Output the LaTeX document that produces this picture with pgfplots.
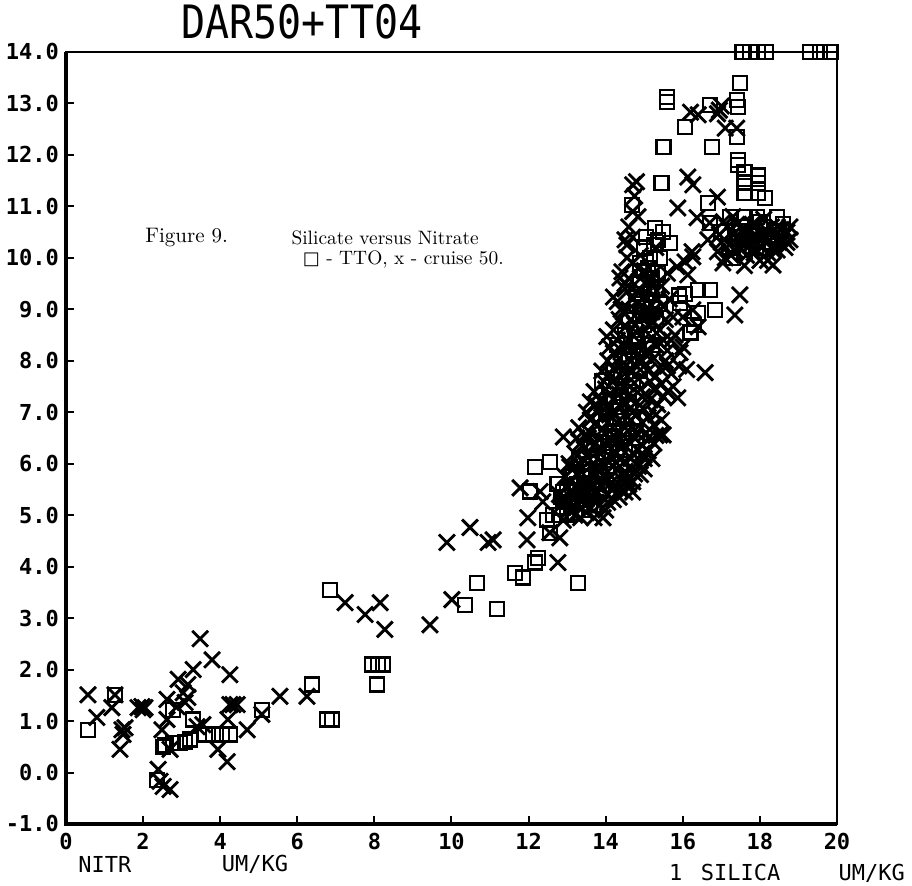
\documentclass[border=0pt]{standalone}
\usepackage{fontspec}
\usepackage{pgfplots}
\pgfplotsset{compat=1.18}
\newfontfamily\plotfont{DejaVu Sans Mono}
\newfontfamily\symfont{DejaVu Sans}

\pgfplotstableread{
x y
0.57 1.51
0.8 1.07
1.19 1.26
1.27 1.51
1.4 0.45
1.45 0.83
1.48 0.74
1.53 0.87
1.87 1.26
1.97 1.28
2.05 1.26
2.0 1.22
2.62 1.42
2.39 0.06
2.44 -0.17
2.52 -0.27
2.7 -0.33
2.49 0.83
2.62 1.03
2.91 1.81
2.7 0.45
2.88 1.28
3.04 1.55
3.16 1.71
3.3 2.0
3.09 1.36
3.16 1.46
3.4 0.89
3.48 2.6
3.79 2.19
3.55 0.93
3.94 0.45
4.18 0.21
4.25 1.9
4.2 1.03
4.25 1.32
4.33 1.32
4.44 1.32
4.7 0.83
5.08 1.13
5.55 1.48
6.25 1.48
7.24 3.3
7.76 3.07
8.15 3.3
8.27 2.78
9.44 2.87
10.01 3.36
9.88 4.47
10.48 4.76
10.95 4.47
11.08 4.52
11.78 5.53
11.98 4.95
11.96 4.52
12.37 5.26
12.3 5.46
12.76 4.08
12.81 4.56
12.55 4.66
12.9 6.52
13.07 5.94
13.93 4.95
12.9 4.9
13.2 5.0
13.5 5.05
13.7 4.95
14.0 5.1
13.3 5.2
12.8 5.4
13.1 5.45
13.45 5.35
13.75 5.4
14.03 5.4
14.37 5.5
13.9 5.55
12.95 5.75
13.25 5.8
13.55 5.7
13.85 5.85
14.15 5.75
14.5 5.85
14.9 5.79
14.7 5.65
13.2 6.2
13.5 6.15
13.8 6.25
14.1 6.15
14.4 6.3
14.7 6.2
15.0 6.1
13.35 6.4
13.3 6.7
13.6 6.6
13.9 6.65
14.2 6.55
14.5 6.7
14.8 6.6
15.1 6.5
15.4 6.56
13.5 7.0
13.8 7.05
14.1 6.95
14.4 7.1
14.7 7.0
15.0 7.05
15.3 6.95
15.49 6.56
13.7 7.4
13.85 7.24
14.3 7.5
14.0 7.45
14.6 7.35
14.9 7.45
15.15 7.24
15.5 7.3
15.87 7.28
13.9 7.8
14.2 7.85
14.5 7.75
14.8 7.9
15.1 7.8
15.4 7.85
15.7 7.75
16.1 7.83
16.58 7.77
14.03 8.47
14.1 8.27
14.4 8.2
14.7 8.25
15.0 8.15
15.3 8.3
15.6 8.2
15.93 8.16
16.0 8.27
14.2 8.6
14.5 8.65
14.8 8.55
15.1 8.7
15.4 8.6
15.75 8.85
16.0 8.85
16.4 8.66
14.3 9.15
14.6 9.0
14.9 9.05
15.2 8.95
15.5 9.05
16.26 8.99
17.35 8.89
14.2 9.24
14.5 9.4
14.8 9.35
15.2 9.45
17.48 9.28
14.37 9.61
14.42 9.73
14.7 9.9
15.0 9.75
15.85 9.83
16.13 9.67
16.06 9.92
17.04 9.9
14.5 10.35
14.55 10.25
14.7 10.4
16.24 10.12
16.26 10.02
16.9 10.12
16.65 10.35
14.84 10.8
16.37 10.78
16.7 10.68
15.87 10.97
16.9 11.18
14.8 11.48
14.7 11.42
16.26 11.42
16.13 11.57
17.1 10.0
17.3 10.45
17.5 10.2
17.7 10.5
17.9 10.15
18.1 10.4
18.3 10.6
18.5 10.3
18.7 10.5
18.78 10.6
18.78 10.35
18.34 9.86
18.0 9.95
17.6 9.85
17.4 10.65
17.9 10.65
18.2 10.1
18.55 10.55
17.2 10.25
16.95 10.45
17.8 10.3
18.4 10.45
16.2 12.83
16.4 12.78
16.95 12.87
17.0 12.95
16.9 12.8
17.1 12.52
17.4 12.52
13.05 5.1
13.35 4.95
13.6 5.15
13.85 5.2
14.2 5.3
14.5 5.45
14.6 5.6
14.85 5.95
13.1 5.65
13.4 5.6
13.65 5.55
13.95 5.65
14.25 5.55
14.55 5.7
13.05 6.0
13.3 6.0
13.6 5.95
13.9 6.0
14.2 5.95
14.5 6.05
14.8 6.0
15.1 6.25
13.45 6.3
13.75 6.4
14.05 6.35
14.35 6.45
14.65 6.4
14.95 6.35
15.25 6.4
13.45 6.55
13.75 6.8
14.05 6.8
14.35 6.85
14.65 6.85
14.95 6.8
15.25 6.75
13.6 7.2
13.9 7.2
14.2 7.25
14.5 7.2
14.8 7.2
15.1 7.3
15.35 7.15
13.95 7.6
14.25 7.65
14.55 7.55
14.85 7.65
15.15 7.6
15.45 7.55
15.75 7.5
14.05 8.0
14.35 8.05
14.65 8.0
14.95 8.0
15.25 8.05
15.55 8.0
14.3 8.4
14.6 8.4
14.9 8.35
15.2 8.45
15.5 8.4
15.8 8.5
14.35 8.8
14.65 8.8
14.95 8.85
15.25 8.75
15.55 8.8
14.4 9.0
14.7 9.2
15.0 9.25
15.35 9.2
14.6 9.6
14.9 9.6
15.25 9.7
14.55 10.0
14.9 10.05
15.3 10.2
14.6 10.6
14.7 10.9
14.75 11.2
17.0 10.3
17.15 10.6
17.35 10.15
17.45 10.35
17.55 10.55
17.65 10.05
17.75 10.25
17.85 10.45
17.95 10.4
18.05 10.2
18.15 10.55
18.25 10.35
18.35 10.15
18.45 10.6
18.6 10.4
18.65 10.2
18.2 9.95
17.8 10.65
17.3 10.8
12.85 5.2
13.15 5.3
13.45 5.2
13.75 5.25
14.05 5.25
14.35 5.35
14.7 5.45
15.0 5.9
13.2 5.55
13.5 5.5
13.8 5.65
14.1 5.6
14.4 5.7
14.75 5.8
13.15 5.9
13.45 6.05
13.75 5.9
14.05 6.05
14.35 6.1
14.65 6.1
14.95 6.2
15.2 6.1
13.25 6.5
13.55 6.5
13.85 6.5
14.15 6.45
14.45 6.55
14.75 6.5
15.05 6.6
15.3 6.55
13.6 6.85
13.9 6.9
14.2 7.0
14.5 6.95
14.8 6.95
15.1 6.9
15.45 6.85
13.75 7.15
14.05 7.15
14.35 7.35
14.65 7.25
14.95 7.3
15.25 7.45
15.6 7.4
14.1 7.75
14.4 7.9
14.7 7.8
15.0 7.9
15.3 7.7
15.6 7.9
15.9 7.9
14.2 8.15
14.5 8.3
14.8 8.1
15.1 8.2
15.4 8.35
15.7 8.4
14.45 8.95
14.75 8.7
15.05 9.0
15.35 8.95
15.65 9.2
14.5 9.5
14.85 9.8
15.15 9.55
15.45 9.45
15.6 9.7
17.05 10.7
17.25 10.05
17.55 10.35
17.85 10.1
18.1 10.75
18.45 10.15
18.7 10.3
}\cruise

\pgfplotstableread{
x y
0.57 0.83
1.27 1.51
2.36 -0.14
2.57 0.54
2.52 0.5
2.78 1.22
2.78 0.58
2.96 0.58
3.09 0.6
3.22 0.64
3.3 1.03
3.6 0.74
3.81 0.74
4.05 0.74
4.25 0.74
5.08 1.22
6.38 1.71
6.77 1.03
6.9 1.03
6.85 3.55
7.94 2.1
8.09 2.1
8.22 2.1
8.07 1.71
10.66 3.69
10.35 3.26
11.18 3.17
11.65 3.88
11.86 3.79
12.17 4.08
12.24 4.17
13.28 3.69
12.55 4.66
12.48 4.91
12.63 5.01
12.17 5.94
12.55 6.04
12.04 5.46
12.8 5.0
12.9 5.15
13.0 5.0
13.1 5.2
13.2 5.05
13.3 5.3
12.85 5.35
13.0 5.5
13.2 5.45
13.4 5.1
13.5 5.4
13.6 5.2
13.7 5.6
12.75 5.6
13.5 5.9
13.8 6.1
14.1 6.4
13.6 6.4
14.0 6.8
14.3 6.9
14.6 7.1
14.2 7.2
13.9 7.6
14.4 7.7
14.7 7.6
14.5 8.0
14.3 8.3
14.8 8.4
15.0 8.1
14.9 8.9
14.6 8.8
14.4 6.0
14.8 6.5
14.2 5.8
13.9 5.5
14.8 9.3
14.9 9.5
15.0 9.75
15.2 9.6
15.1 9.3
15.0 9.05
15.2 9.0
15.3 8.8
15.1 9.8
15.15 10.0
15.41 10.0
15.28 10.58
15.49 10.5
15.67 10.29
14.68 11.03
15.93 9.13
15.9 9.27
16.05 9.3
16.4 9.38
16.7 9.38
16.84 8.99
16.4 8.93
16.3 8.7
16.2 8.55
17.22 10.8
17.6 10.8
17.92 10.8
18.44 10.8
16.65 11.07
16.7 10.68
17.0 10.5
17.4 10.4
17.8 10.5
18.1 10.6
18.3 10.3
17.6 10.15
17.2 10.2
18.6 10.65
17.6 11.46
17.6 11.26
17.95 11.26
18.13 11.17
15.45 11.46
17.6 11.67
17.95 11.6
17.6 11.48
17.95 11.46
17.43 11.9
17.43 11.8
15.5 12.16
16.75 12.16
17.4 12.35
17.48 13.4
17.4 13.07
17.43 12.93
16.7 12.97
16.05 12.54
15.6 13.13
15.6 13.03
17.55 14
17.75 14
17.95 14
18.15 14
19.3 14
19.55 14
19.83 14
13.15 5.75
13.45 5.75
13.75 5.85
14.05 5.95
13.3 6.1
13.7 6.3
14.0 6.2
14.3 6.3
14.55 6.6
14.25 6.6
13.85 6.7
14.4 7.3
14.1 7.5
14.6 7.4
14.9 7.8
14.7 8.2
15.1 8.5
14.5 8.5
15.0 8.7
15.3 9.4
14.9 9.9
15.25 10.25
15.0 10.2
17.1 10.5
17.5 10.6
17.9 10.2
18.2 10.45
18.5 10.5
17.3 10.0
17.7 10.35
18.0 10.7
12.9 5.45
13.05 5.35
13.35 5.45
13.55 5.6
13.25 5.6
12.95 5.25
13.6 6.0
13.95 6.35
14.2 6.5
14.5 6.4
14.7 6.9
14.35 7.1
14.0 7.0
14.2 7.8
14.6 8.0
14.85 8.2
15.2 8.3
14.75 8.6
15.1 8.9
15.4 9.1
15.35 9.7
15.05 10.4
15.35 10.35
15.2 9.15
14.95 9.1
}\tto

\begin{document}
\begin{tikzpicture}
\begin{axis}[
  scale only axis, width=385.5pt, height=386pt,
  xmin=0, xmax=20, ymin=-1, ymax=14,
  xtick={0,2,...,20}, ytick={-1,0,...,14},
  xticklabels={0,2,4,6,8,10,12,14,16,18,20},
  yticklabels={-1.0,0.0,1.0,2.0,3.0,4.0,5.0,6.0,7.0,8.0,9.0,10.0,11.0,12.0,13.0,14.0},
  xtick pos=bottom, ytick pos=left,
  tick align=inside, major tick length=4pt,
  every tick/.style={black, line width=1pt},
  ticklabel style={font=\plotfont\bfseries\fontsize{11}{11}\selectfont},
  xticklabel style={yshift=-1pt},
  axis line style={line width=0.9pt},
  clip=false,
]
\coordinate (sw) at (rel axis cs:0,0);
\draw[line width=1.6pt] (rel axis cs:0,1) -- (rel axis cs:0,0) -- (rel axis cs:1,0);
\addplot[only marks, mark=x, mark size=5.6pt, line width=1.45pt, black] table {\cruise};
\addplot[only marks, mark=square, mark size=3.5pt, line width=1.1pt, black] table {\tto};
\node[font=\plotfont\fontsize{20}{20}\selectfont, yscale=1.15] at (axis cs:6.12,14.58) {DAR50+TT04};
\node[font=\fontsize{10.5}{12}\selectfont] at (axis cs:3.13,10.4) {Figure 9.};
\node[font=\fontsize{9.7}{12}\selectfont] at (axis cs:8.28,10.38) {Silicate versus Nitrate};
\node[font=\fontsize{9.7}{12}\selectfont] at (axis cs:8.75,9.96) {{\symfont\fontsize{9}{9}\selectfont □} - TTO, x - cruise 50.};
\node[font=\plotfont\fontsize{11}{11}\selectfont] at (axis cs:1.01,-1.79) {NITR};
\node[font=\plotfont\fontsize{11}{11}\selectfont] at (axis cs:4.9,-1.79) {UM/KG};
\node[font=\plotfont\fontsize{11}{11}\selectfont] at (axis cs:15.82,-1.95) {1};
\node[font=\plotfont\fontsize{11}{11}\selectfont] at (axis cs:17.5,-1.95) {SILICA};
\node[font=\plotfont\fontsize{11}{11}\selectfont] at (axis cs:20.9,-1.95) {UM/KG};
\end{axis}
\pgfresetboundingbox
\path (sw) ++(-33pt,-31pt) rectangle ++(456pt,443pt);
\end{tikzpicture}
\end{document}
